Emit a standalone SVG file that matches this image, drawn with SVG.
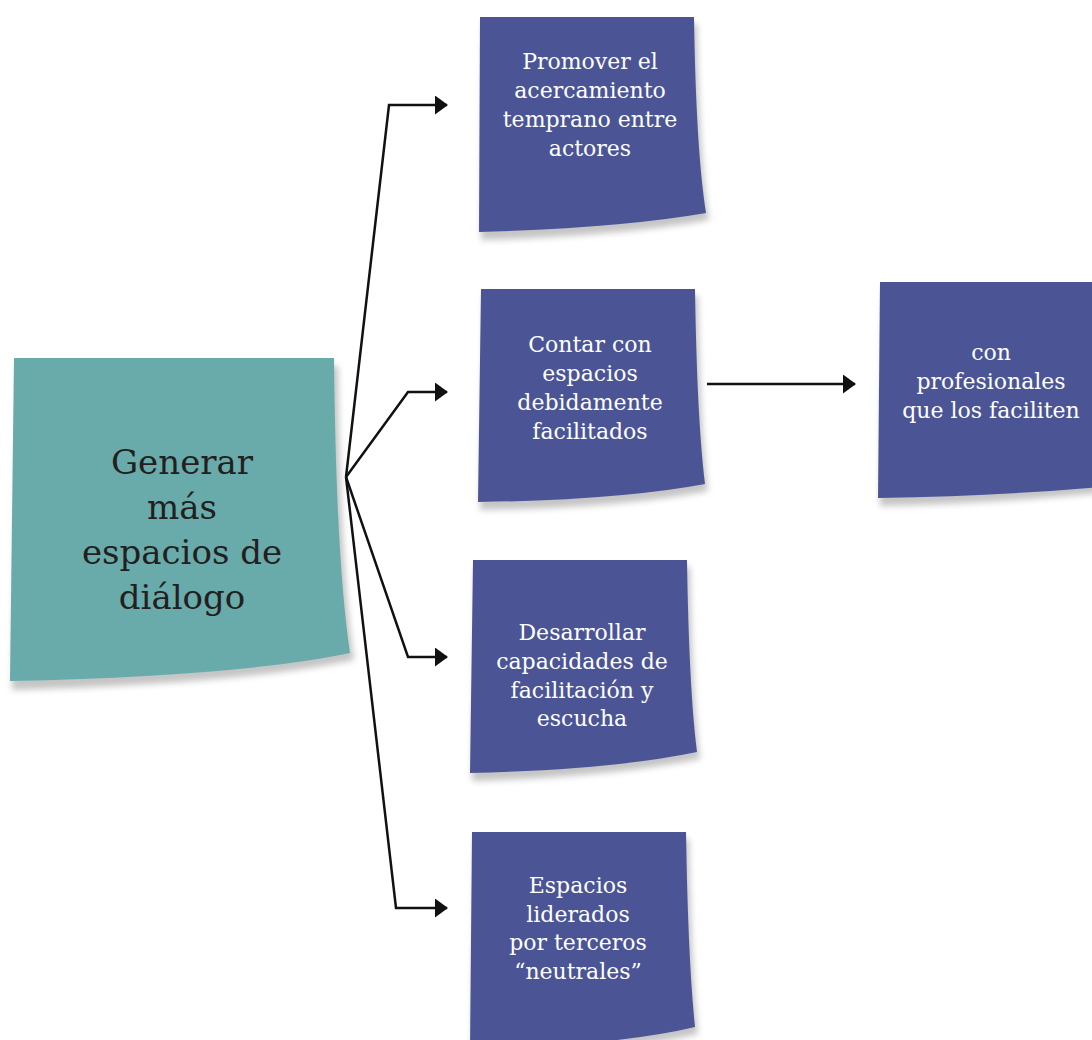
<svg xmlns="http://www.w3.org/2000/svg" width="1092" height="1040" viewBox="0 0 1092 1040">
<style>
.blue{fill:#4b5596}
.teal{fill:#69abaa}
.sh{fill:#8a8a8a;opacity:0.5;filter:url(#blur)}
.wt{font-family:"DejaVu Serif",serif;font-size:22px;fill:#ffffff;text-anchor:middle}
.dt{font-family:"DejaVu Serif",serif;font-size:34px;fill:#231f20;text-anchor:middle}
.conn{fill:none;stroke:#111;stroke-width:2.5;stroke-linejoin:miter}
</style>
<defs>
<filter id="blur" x="-10%" y="-10%" width="120%" height="130%"><feGaussianBlur stdDeviation="3"/></filter>
<marker id="arr" markerWidth="13" markerHeight="19" refX="12" refY="9.5" orient="auto" markerUnits="userSpaceOnUse">
<path d="M0,0 L13,9.5 L0,19 Z" fill="#111"/>
</marker>
</defs>
<rect width="1092" height="1040" fill="#ffffff"/>

<g id="node-main">
<path class="sh" d="M18,366 L338,366 Q340,565 354,660 Q240,684 12,690 Z"/>
<path class="teal" d="M14,358 L334,358 Q336,560 350,653 Q240,676 10,681 Z"/>
<text class="dt" x="182" y="474">Generar</text>
<text class="dt" x="182" y="519">más</text>
<text class="dt" x="182" y="564">espacios de</text>
<text class="dt" x="182" y="609">diálogo</text>
</g>

<g id="node-promover">
<path class="sh" d="M483,24 L697,24 Q699,155 709,220 Q620,236 481,240 Z"/>
<path class="blue" d="M480,17 L694,17 Q696,150 706,213 Q620,228 479,232 Z"/>
<text class="wt" x="590" y="69">Promover el</text>
<text class="wt" x="590" y="98">acercamiento</text>
<text class="wt" x="590" y="127">temprano entre</text>
<text class="wt" x="590" y="156">actores</text>
</g>

<g id="node-contar">
<path class="sh" d="M484,296 L698,296 Q700,425 708,491 Q620,508 480,510 Z"/>
<path class="blue" d="M481,289 L695,289 Q697,420 705,484 Q620,500 478,502 Z"/>
<text class="wt" x="590" y="352">Contar con</text>
<text class="wt" x="590" y="381">espacios</text>
<text class="wt" x="590" y="410">debidamente</text>
<text class="wt" x="590" y="439">facilitados</text>
</g>

<g id="node-profesionales">
<path class="sh" d="M883,289 L1100,289 L1100,493 Q1000,503 880,506 Z"/>
<path class="blue" d="M880,282 L1100,282 L1100,487 Q1000,496 878,498 Z"/>
<text class="wt" x="991" y="360">con</text>
<text class="wt" x="991" y="389">profesionales</text>
<text class="wt" x="991" y="418">que los faciliten</text>
</g>

<g id="node-desarrollar">
<path class="sh" d="M476,567 L690,567 Q692,695 700,759 Q610,777 472,781 Z"/>
<path class="blue" d="M473,560 L687,560 Q689,690 697,752 Q610,770 470,773 Z"/>
<text class="wt" x="582" y="640">Desarrollar</text>
<text class="wt" x="582" y="669">capacidades de</text>
<text class="wt" x="582" y="698">facilitación y</text>
<text class="wt" x="582" y="726">escucha</text>
</g>

<g id="node-espacios">
<path class="sh" d="M475,839 L689,839 Q691,965 698,1034 Q620,1052 472,1058 Z"/>
<path class="blue" d="M472,832 L686,832 Q688,960 695,1027 Q620,1045 470,1050 Z"/>
<text class="wt" x="578" y="893">Espacios</text>
<text class="wt" x="578" y="922">liderados</text>
<text class="wt" x="578" y="950">por terceros</text>
<text class="wt" x="578" y="979">“neutrales”</text>
</g>

<g id="connectors">
<polyline class="conn" points="346,477 389,105 447,105" marker-end="url(#arr)"/>
<polyline class="conn" points="346,477 408,392 447,392" marker-end="url(#arr)"/>
<polyline class="conn" points="346,477 408,657 447,657" marker-end="url(#arr)"/>
<polyline class="conn" points="346,477 396,908 447,908" marker-end="url(#arr)"/>
<line class="conn" x1="707" y1="384" x2="855" y2="384" marker-end="url(#arr)"/>
</g>
</svg>
